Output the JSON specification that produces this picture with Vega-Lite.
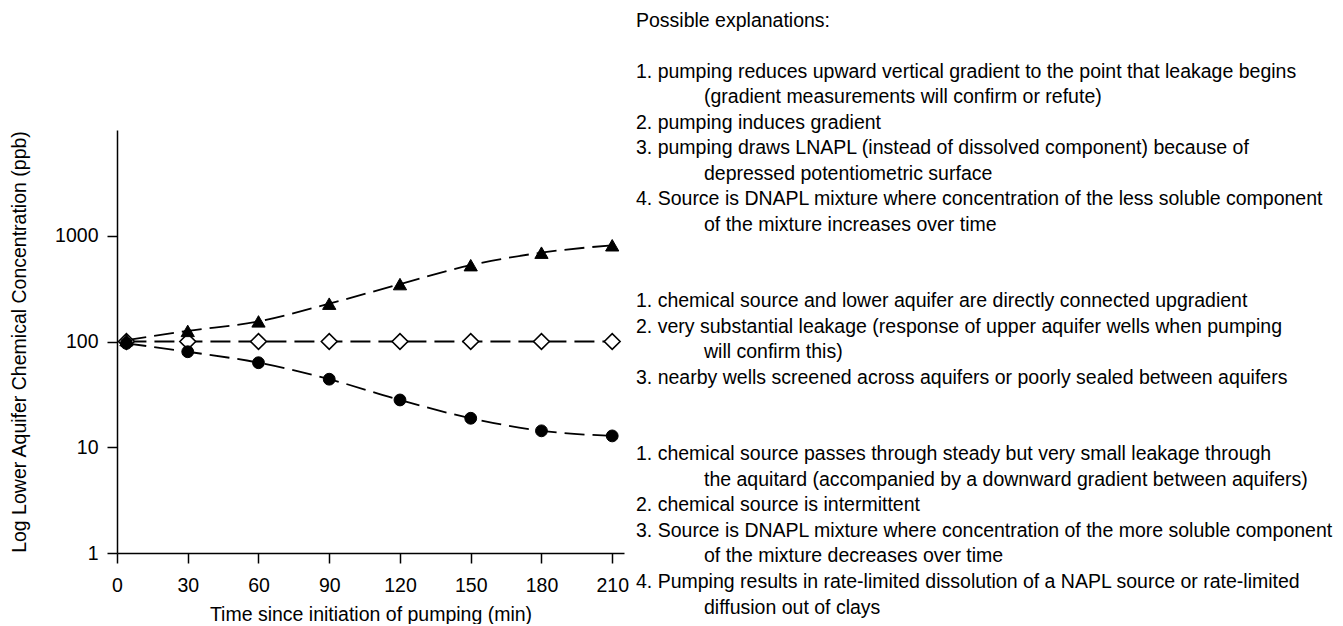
{
  "$schema": "https://vega.github.io/schema/vega-lite/v6.json",
  "width": 507,
  "height": 423,
  "padding": {"left": 9, "top": 10, "right": 0, "bottom": 0},
  "background": "white",
  "config": {
    "view": {"stroke": null},
    "font": "Liberation Sans",
    "axis": {
      "grid": false,
      "domainColor": "black",
      "domainWidth": 1.5,
      "tickColor": "black",
      "tickWidth": 1.5,
      "tickSize": 10,
      "labelFont": "Liberation Sans",
      "labelFontSize": 19.5,
      "labelColor": "black",
      "labelFlush": false,
      "labelOverlap": false,
      "titleFont": "Liberation Sans",
      "titleFontSize": 19.5,
      "titleFontWeight": "normal",
      "titleColor": "black"
    }
  },
  "datasets": {
    "series": [
      {"t": 4, "series": "increasing", "c": 103},
      {"t": 30, "series": "increasing", "c": 126},
      {"t": 60, "series": "increasing", "c": 155},
      {"t": 90, "series": "increasing", "c": 228},
      {"t": 120, "series": "increasing", "c": 349},
      {"t": 150, "series": "increasing", "c": 527},
      {"t": 180, "series": "increasing", "c": 692},
      {"t": 210, "series": "increasing", "c": 813},
      {"t": 4, "series": "constant", "c": 100},
      {"t": 30, "series": "constant", "c": 100},
      {"t": 60, "series": "constant", "c": 100},
      {"t": 90, "series": "constant", "c": 100},
      {"t": 120, "series": "constant", "c": 100},
      {"t": 150, "series": "constant", "c": 100},
      {"t": 180, "series": "constant", "c": 100},
      {"t": 210, "series": "constant", "c": 100},
      {"t": 4, "series": "decreasing", "c": 96},
      {"t": 30, "series": "decreasing", "c": 80},
      {"t": 60, "series": "decreasing", "c": 63},
      {"t": 90, "series": "decreasing", "c": 44},
      {"t": 120, "series": "decreasing", "c": 28},
      {"t": 150, "series": "decreasing", "c": 18.8},
      {"t": 180, "series": "decreasing", "c": 14.3},
      {"t": 210, "series": "decreasing", "c": 12.8}
    ],
    "notes": [
      {"line": 0, "indent": 0, "text": "Possible explanations:"},
      {"line": 2, "indent": 0, "text": "1. pumping reduces upward vertical gradient to the point that leakage begins"},
      {"line": 3, "indent": 1, "text": "(gradient measurements will confirm or refute)"},
      {"line": 4, "indent": 0, "text": "2. pumping induces gradient"},
      {"line": 5, "indent": 0, "text": "3. pumping draws LNAPL (instead of dissolved component) because of"},
      {"line": 6, "indent": 1, "text": "depressed potentiometric surface"},
      {"line": 7, "indent": 0, "text": "4. Source is DNAPL mixture where concentration of the less soluble component"},
      {"line": 8, "indent": 1, "text": "of the mixture increases over time"},
      {"line": 11, "indent": 0, "text": "1. chemical source and lower aquifer are directly connected upgradient"},
      {"line": 12, "indent": 0, "text": "2. very substantial leakage (response of upper aquifer wells when pumping"},
      {"line": 13, "indent": 1, "text": "will confirm this)"},
      {"line": 14, "indent": 0, "text": "3. nearby wells screened across aquifers or poorly sealed between aquifers"},
      {"line": 17, "indent": 0, "text": "1. chemical source passes through steady but very small leakage through"},
      {"line": 18, "indent": 1, "text": "the aquitard (accompanied by a downward gradient between aquifers)"},
      {"line": 19, "indent": 0, "text": "2. chemical source is intermittent"},
      {"line": 20, "indent": 0, "text": "3. Source is DNAPL mixture where concentration of the more soluble component"},
      {"line": 21, "indent": 1, "text": "of the mixture decreases over time"},
      {"line": 22, "indent": 0, "text": "4. Pumping results in rate-limited dissolution of a NAPL source or rate-limited"},
      {"line": 23, "indent": 1, "text": "diffusion out of clays"}
    ]
  },
  "layer": [
    {
      "data": {"name": "series"},
      "encoding": {
        "x": {
          "field": "t",
          "type": "quantitative",
          "scale": {"domain": [0, 215], "nice": false, "zero": false},
          "axis": {
            "title": "Time since initiation of pumping (min)",
            "values": [0, 30, 60, 90, 120, 150, 180, 210],
            "labelPadding": 13,
            "titlePadding": 11
          }
        },
        "y": {
          "field": "c",
          "type": "quantitative",
          "scale": {"type": "log", "domain": [1, 10000], "nice": false},
          "axis": {
            "title": "Log Lower Aquifer Chemical Concentration (ppb)",
            "values": [1, 10, 100, 1000],
            "format": "d",
            "labelPadding": 9,
            "titlePadding": 25
          }
        }
      },
      "layer": [
        {
          "mark": {
            "type": "line",
            "interpolate": "monotone",
            "strokeDash": [20, 8],
            "color": "black",
            "strokeWidth": 1.8
          },
          "encoding": {"detail": {"field": "series"}}
        },
        {
          "transform": [{"filter": "datum.series === 'constant'"}],
          "mark": {"type": "point", "shape": "diamond", "size": 250, "filled": true, "fill": "white", "stroke": "black", "strokeWidth": 1.6, "opacity": 1}
        },
        {
          "transform": [{"filter": "datum.series === 'increasing'"}],
          "mark": {"type": "point", "shape": "triangle-up", "size": 175, "filled": true, "fill": "black", "stroke": "black", "strokeWidth": 1, "opacity": 1}
        },
        {
          "transform": [{"filter": "datum.series === 'decreasing'"}],
          "mark": {"type": "point", "shape": "circle", "size": 140, "filled": true, "fill": "black", "stroke": "black", "strokeWidth": 1, "opacity": 1}
        }
      ]
    },
    {
      "data": {"name": "notes"},
      "mark": {
        "type": "text",
        "align": "left",
        "baseline": "middle",
        "font": "Liberation Sans",
        "fontSize": 19.5,
        "color": "black"
      },
      "encoding": {
        "x": {
          "field": "indent",
          "type": "quantitative",
          "scale": {"domain": [0, 1], "range": [519, 587], "zero": false, "nice": false},
          "axis": null
        },
        "y": {
          "field": "line",
          "type": "quantitative",
          "scale": {"domain": [0, 23], "range": [-109.5, 477.5], "zero": false, "nice": false},
          "axis": null
        },
        "text": {"field": "text"}
      }
    }
  ],
  "resolve": {"scale": {"x": "independent", "y": "independent"}}
}
